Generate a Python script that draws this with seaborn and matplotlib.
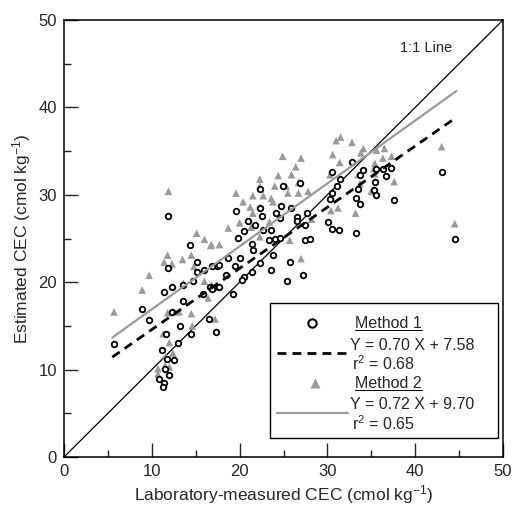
import numpy as np
import pandas as pd
import seaborn as sns
import matplotlib.pyplot as plt
from matplotlib.patches import Rectangle

# Method 1 (open circles): laboratory-measured vs estimated CEC
m1_x = [5.7, 8.9, 9.7, 11.4, 11.8, 12.3, 12.3, 11.6, 11.2, 11.7, 12.5, 11.5, 12.0, 10.8,
        11.4, 11.3, 13.0, 13.2, 13.5, 13.6, 14.4, 11.9, 14.5, 14.7, 15.1, 15.1, 15.8,
        16.0, 16.6, 16.5, 17.3, 17.0, 17.7, 17.4, 18.4, 18.7, 19.5, 19.2, 20.0, 20.5,
        20.3, 21.4, 22.3, 23.6, 23.8, 25.7, 25.4, 27.2, 16.8, 17.7, 16.8, 19.6, 19.8,
        20.5, 20.9, 21.7, 21.4, 21.5, 22.3, 22.3, 22.5, 22.7, 23.6, 23.4, 24.0, 24.6,
        24.2, 24.7, 24.6, 24.9, 25.8, 26.5, 26.5, 26.9, 27.4, 27.7, 27.4, 28.0, 30.1,
        30.5, 31.3, 33.3, 30.3, 30.5, 31.1, 31.4, 30.5, 32.8, 33.3, 33.7, 33.5, 33.7,
        34.0, 35.3, 35.5, 35.4, 35.5, 36.3, 37.2, 36.7, 37.6, 43.0, 44.5]
m1_y = [12.9, 16.9, 15.7, 18.9, 21.6, 19.5, 16.6, 14.1, 12.2, 11.2, 11.1, 10.1, 9.4, 8.9,
        8.5, 8.0, 13.1, 15.0, 17.9, 19.7, 24.3, 27.6, 14.1, 20.1, 22.3, 21.2, 18.6,
        21.4, 19.5, 15.8, 14.3, 19.3, 19.5, 21.8, 20.8, 22.8, 21.8, 18.6, 22.8, 20.6,
        20.3, 21.2, 22.2, 21.4, 23.1, 22.3, 20.1, 20.8, 21.8, 22.0, 19.2, 28.1, 25.1,
        25.9, 27.0, 26.5, 24.4, 23.7, 30.7, 28.5, 27.6, 26.0, 26.0, 24.8, 25.0, 25.1,
        27.9, 28.7, 27.3, 31.0, 28.5, 27.5, 27.0, 31.3, 26.5, 27.9, 24.8, 25.0, 26.9,
        26.1, 26.0, 25.6, 29.5, 30.2, 31.0, 31.8, 32.6, 33.7, 29.6, 29.0, 30.7, 32.3,
        32.8, 30.6, 30.0, 31.5, 32.9, 33.0, 33.1, 32.2, 29.4, 32.6, 25.0]

# Method 2 (grey triangles)
m2_x = [5.7, 8.9, 9.7, 11.4, 12.3, 11.9, 11.8, 13.5, 14.5, 14.8, 13.6, 15.1, 16.0, 16.7,
        16.0, 16.4, 11.8, 13.1, 14.5, 14.6, 17.2, 11.3, 12.0, 12.4, 11.6, 11.5, 12.0,
        10.7, 10.7, 16.8, 24.9, 27.0, 26.4, 24.4, 25.9, 22.3, 26.7, 22.3, 24.0, 25.3,
        27.8, 26.7, 25.5, 19.6, 21.5, 22.7, 23.6, 20.4, 23.8, 21.2, 18.7, 20.0, 23.4,
        22.3, 16.8, 17.7, 25.7, 27.0, 21.5, 21.3, 31.0, 32.8, 34.1, 30.6, 31.4, 35.6,
        36.5, 35.4, 36.3, 37.3, 30.3, 33.5, 33.7, 37.6, 30.4, 31.2, 33.2, 35.0, 31.5,
        33.8, 35.3, 35.4, 28.2, 43.0, 44.5]
m2_y = [16.6, 19.1, 20.8, 22.3, 22.1, 30.4, 23.1, 22.6, 23.1, 21.8, 19.9, 25.6, 24.9, 24.2,
        20.1, 18.2, 16.5, 16.6, 16.4, 15.0, 15.8, 14.1, 13.1, 11.9, 11.5, 10.5, 10.3,
        10.1, 9.5, 19.7, 34.4, 34.2, 33.2, 32.2, 32.3, 31.8, 31.4, 31.0, 31.0, 31.0,
        30.4, 30.2, 30.2, 30.2, 29.9, 29.9, 29.6, 29.2, 29.2, 28.6, 26.2, 26.8, 26.9,
        25.2, 24.3, 24.3, 24.8, 22.7, 27.9, 26.3, 36.2, 36.0, 35.3, 34.6, 33.7, 35.1,
        35.3, 33.6, 34.2, 34.4, 32.3, 32.3, 31.3, 31.5, 28.2, 28.5, 27.9, 30.4, 36.6,
        34.8, 33.0, 32.4, 27.2, 35.5, 26.7]

# regression fits
slope1, icpt1, r2_1 = 0.70, 7.58, 0.68
slope2, icpt2, r2_2 = 0.72, 9.70, 0.65
fit_range = [5.5, 44.7]

sns.set_style("ticks")
plt.rcParams['font.family'] = ['Liberation Sans', 'DejaVu Sans']
plt.rcParams['mathtext.fontset'] = 'custom'
plt.rcParams['mathtext.rm'] = 'Liberation Sans'
plt.rcParams['mathtext.it'] = 'Liberation Sans:italic'

fig = plt.figure(figsize=(5.15, 5.12), dpi=100)
ax = fig.add_axes([64 / 515, 55 / 512, 439 / 515, 437 / 512])

grey = '#9a9a9a'

# 1:1 line
ax.plot([0, 50], [0, 50], color='black', lw=0.9, zorder=1)
ax.text(44.2, 46.8, '1:1 Line', ha='right', va='center', fontsize=10.5)

df1 = pd.DataFrame({'x': m1_x, 'y': m1_y})
df2 = pd.DataFrame({'x': m2_x, 'y': m2_y})
sns.scatterplot(data=df2, x='x', y='y', marker='^', s=30, color=grey,
                edgecolor='none', ax=ax, zorder=2)
sns.scatterplot(data=df1, x='x', y='y', marker='o', s=16, facecolor='white',
                edgecolor='black', linewidth=1.3, ax=ax, zorder=3)

xf = np.array(fit_range)
ax.plot(xf, slope2 * xf + icpt2, color=grey, lw=1.6, zorder=4)
ax.plot(xf, slope1 * xf + icpt1, color='black', lw=2.0, dashes=(3.2, 2.2), zorder=4)

ax.set_xlim(0, 50)
ax.set_ylim(0, 50)
ax.set_xticks(range(0, 51, 10))
ax.set_yticks(range(0, 51, 10))
ax.set_xticks(range(5, 50, 10), minor=True)
ax.set_yticks(range(5, 50, 10), minor=True)
ax.tick_params(which='major', direction='in', length=10, width=1, labelsize=12,
               pad=5, top=False, right=False)
ax.tick_params(which='minor', direction='in', length=5, width=1, top=False, right=False)
for s in ax.spines.values():
    s.set_visible(True)
    s.set_linewidth(1.1)
    s.set_color('black')

ax.set_xlabel('Laboratory-measured CEC (cmol kg$^{-1}$)', fontsize=12.5, labelpad=3)
ax.set_ylabel('Estimated CEC (cmol kg$^{-1}$)', fontsize=12.5, labelpad=4)

# legend box drawn by hand
tr = ax.transAxes
ax.add_patch(Rectangle((0.469, 0.043), 0.52, 0.309, transform=tr, facecolor='white',
                       edgecolor='black', lw=1.0, zorder=6))
ax.plot([0.564], [0.306], 'o', ms=6, mfc='white', mec='black', mew=1.5, transform=tr, zorder=7)
ax.plot([0.485, 0.647], [0.238, 0.238], color='black', lw=2.0, dashes=(3.2, 2.2),
        transform=tr, zorder=7)
ax.plot([0.572], [0.169], '^', ms=7, color=grey, mec='none', transform=tr, zorder=7)
ax.plot([0.485, 0.647], [0.101, 0.101], color=grey, lw=1.6, transform=tr, zorder=7)

fs = 11.5
t1 = ax.text(0.663, 0.306, 'Method 1', transform=tr, fontsize=fs, va='center', zorder=8)
ax.text(0.651, 0.256, f'Y = {slope1:.2f} X + {icpt1:.2f}', transform=tr, fontsize=fs,
        va='center', zorder=8)
ax.text(0.655, 0.213, f'r$^2$ = {r2_1:.2f}', transform=tr, fontsize=fs, va='center', zorder=8)
t2 = ax.text(0.663, 0.169, 'Method 2', transform=tr, fontsize=fs, va='center', zorder=8)
ax.text(0.651, 0.119, f'Y = {slope2:.2f} X + {icpt2:.2f}', transform=tr, fontsize=fs,
        va='center', zorder=8)
ax.text(0.655, 0.076, f'r$^2$ = {r2_2:.2f}', transform=tr, fontsize=fs, va='center', zorder=8)

# underline the method names
fig.canvas.draw()
inv = tr.inverted()
for t in (t1, t2):
    bb = t.get_window_extent()
    (x0, y0), (x1, _) = inv.transform([(bb.x0, bb.y0), (bb.x1, bb.y1)])
    ax.plot([x0, x1], [y0 + 0.002, y0 + 0.002], color='black', lw=0.7, transform=tr, zorder=8)

fig.savefig('out.png', dpi=100)
